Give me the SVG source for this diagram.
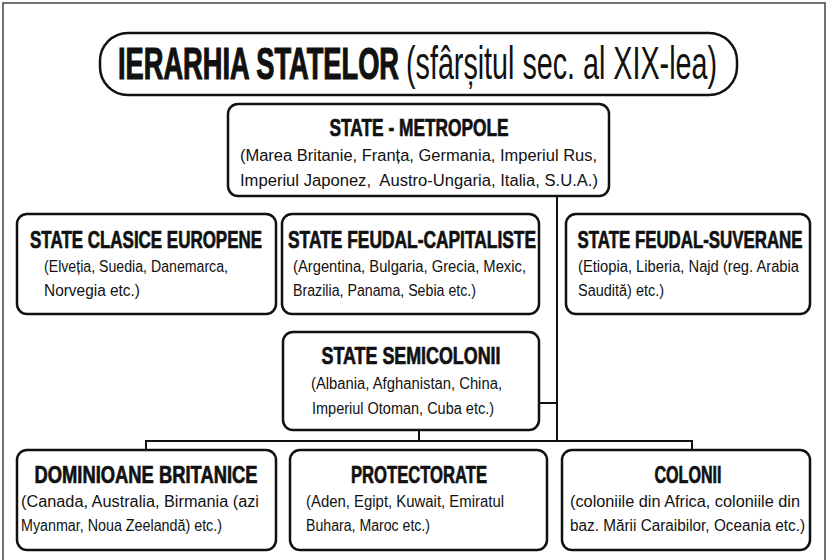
<svg xmlns="http://www.w3.org/2000/svg" width="828" height="560" viewBox="0 0 828 560">
<style>
.box{fill:#fff;stroke:#111;stroke-width:2.5}
.t{font-family:"Liberation Sans",Arial,sans-serif;font-weight:bold;font-size:17px;fill:#111;stroke:#111;stroke-width:0.5;text-anchor:middle}
.s{font-family:"Liberation Sans",Arial,sans-serif;font-size:16px;fill:#111}
.c{fill:none;stroke:#111;stroke-width:2}
</style>
<rect width="828" height="560" fill="#fff"/>
<rect x="3" y="3" width="822" height="580" fill="none" stroke="#444" stroke-width="1.5"/>
<g id="title">
<rect x="100" y="33" width="637" height="62" rx="28" class="box"/>
<g transform="translate(118,79) scale(1,1.7)"><text x="0" y="0" font-family="Liberation Sans,Arial,sans-serif" font-weight="bold" font-size="26.5" fill="#111" stroke="#111" stroke-width="0.7" textLength="281" lengthAdjust="spacingAndGlyphs">IERARHIA STATELOR</text></g>
<g transform="translate(406,79) scale(1,1.6)"><text x="0" y="0" font-family="Liberation Sans,Arial,sans-serif" font-size="28.5" fill="#111" textLength="311" lengthAdjust="spacingAndGlyphs">(sfârșitul sec. al XIX-lea)</text></g>
</g>
<g id="connectors">
<path class="c" d="M557,196 V441"/>
<path class="c" d="M539,403 H557"/>
<path class="c" d="M419,430 V441"/>
<path class="c" d="M146,450 V441 H692 V450"/>
</g>
<g id="metropole">
<rect x="228" y="104" width="381" height="92" rx="10" class="box"/>
<g transform="translate(419,136) scale(1,1.4)"><text class="t" textLength="179" lengthAdjust="spacingAndGlyphs">STATE - METROPOLE</text></g>
<text x="240" y="161" class="s" textLength="357" lengthAdjust="spacingAndGlyphs">(Marea Britanie, Franța, Germania, Imperiul Rus,</text>
<text x="240" y="186" class="s" textLength="358" lengthAdjust="spacingAndGlyphs">Imperiul Japonez,&#160; Austro-Ungaria, Italia, S.U.A.)</text>
</g>
<g id="clasice">
<rect x="17" y="214" width="259" height="100" rx="10" class="box"/>
<g transform="translate(146,248) scale(1,1.4)"><text class="t" textLength="232" lengthAdjust="spacingAndGlyphs">STATE CLASICE EUROPENE</text></g>
<text x="44" y="272" class="s" textLength="184" lengthAdjust="spacingAndGlyphs">(Elveția, Suedia, Danemarca,</text>
<text x="44" y="296" class="s" textLength="96" lengthAdjust="spacingAndGlyphs">Norvegia etc.)</text>
</g>
<g id="feudal-capitaliste">
<rect x="282" y="214" width="257" height="100" rx="10" class="box"/>
<g transform="translate(412,248) scale(1,1.4)"><text class="t" textLength="248" lengthAdjust="spacingAndGlyphs">STATE FEUDAL-CAPITALISTE</text></g>
<text x="293" y="272" class="s" textLength="233" lengthAdjust="spacingAndGlyphs">(Argentina, Bulgaria, Grecia, Mexic,</text>
<text x="293" y="296" class="s" textLength="183" lengthAdjust="spacingAndGlyphs">Brazilia, Panama, Sebia etc.)</text>
</g>
<g id="feudal-suverane">
<rect x="566" y="214" width="244" height="100" rx="10" class="box"/>
<g transform="translate(690,248) scale(1,1.4)"><text class="t" textLength="225" lengthAdjust="spacingAndGlyphs">STATE FEUDAL-SUVERANE</text></g>
<text x="578" y="272" class="s" textLength="221" lengthAdjust="spacingAndGlyphs">(Etiopia, Liberia, Najd (reg. Arabia</text>
<text x="578" y="296" class="s" textLength="86" lengthAdjust="spacingAndGlyphs">Saudită) etc.)</text>
</g>
<g id="semicolonii">
<rect x="283" y="332" width="256" height="98" rx="10" class="box"/>
<g transform="translate(411,364) scale(1,1.4)"><text class="t" textLength="179" lengthAdjust="spacingAndGlyphs">STATE SEMICOLONII</text></g>
<text x="311" y="389" class="s" textLength="191" lengthAdjust="spacingAndGlyphs">(Albania, Afghanistan, China,</text>
<text x="312" y="414" class="s" textLength="182" lengthAdjust="spacingAndGlyphs">Imperiul Otoman, Cuba etc.)</text>
</g>
<g id="dominioane">
<rect x="17" y="450" width="259" height="100" rx="10" class="box"/>
<g transform="translate(146,483) scale(1,1.4)"><text class="t" textLength="223" lengthAdjust="spacingAndGlyphs">DOMINIOANE BRITANICE</text></g>
<text x="21" y="507" class="s" textLength="238" lengthAdjust="spacingAndGlyphs">(Canada, Australia, Birmania (azi</text>
<text x="21" y="531" class="s" textLength="201" lengthAdjust="spacingAndGlyphs">Myanmar, Noua Zeelandă) etc.)</text>
</g>
<g id="protectorate">
<rect x="290" y="450" width="257" height="100" rx="10" class="box"/>
<g transform="translate(419,483) scale(1,1.4)"><text class="t" textLength="136" lengthAdjust="spacingAndGlyphs">PROTECTORATE</text></g>
<text x="306" y="507" class="s" textLength="198" lengthAdjust="spacingAndGlyphs">(Aden, Egipt, Kuwait, Emiratul</text>
<text x="306" y="531" class="s" textLength="124" lengthAdjust="spacingAndGlyphs">Buhara, Maroc etc.)</text>
</g>
<g id="colonii">
<rect x="562" y="450" width="248" height="100" rx="10" class="box"/>
<g transform="translate(688,483) scale(1,1.4)"><text class="t" textLength="67" lengthAdjust="spacingAndGlyphs">COLONII</text></g>
<text x="570" y="507" class="s" textLength="230" lengthAdjust="spacingAndGlyphs">(coloniile din Africa, coloniile din</text>
<text x="570" y="531" class="s" textLength="235" lengthAdjust="spacingAndGlyphs">baz. Mării Caraibilor, Oceania etc.)</text>
</g>
</svg>
